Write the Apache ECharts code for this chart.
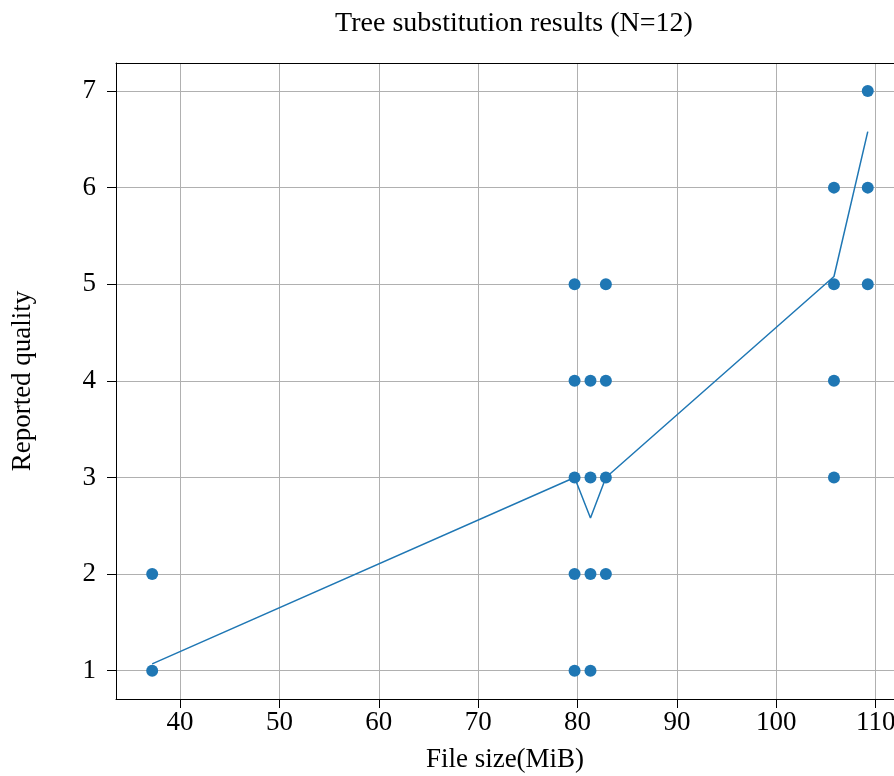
<!DOCTYPE html>
<html><head><meta charset="utf-8">
<script src="https://cdn.jsdelivr.net/npm/echarts@6/dist/echarts.min.js"></script>
<style>html,body{margin:0;padding:0;background:#fff}#c{width:894px;height:776px}</style>
</head><body><div id="c"></div>
<script>
// Scatter observations: [file size MiB, reported quality]
const sizes = [37.2, 79.7, 81.3, 82.85, 105.8, 109.2];
const qualityBySize = [
  [1, 2],
  [1, 2, 3, 4, 5],
  [1, 2, 3, 4],
  [2, 3, 4, 5],
  [3, 4, 5, 6],
  [5, 6, 7]
];
// Mean reported quality per file size (line)
const meanQuality = [1.07, 3.0, 2.58, 3.0, 5.08, 6.58];
const xTicks = [40, 50, 60, 70, 80, 90, 100, 110];
const yTicks = [1, 2, 3, 4, 5, 6, 7];

const scatterData = [];
sizes.forEach((s, i) => qualityBySize[i].forEach(q => scatterData.push([s, q])));
const lineData = sizes.map((s, i) => [s, meanQuality[i]]);

const font = 'Liberation Serif, DejaVu Serif, serif';
const fs = 27;
const chart = echarts.init(document.getElementById('c'), null, {renderer: 'canvas'});
chart.setOption({
  animation: false,
  title: {
    text: 'Tree substitution results (N=12)',
    left: 509, top: 5, textAlign: 'center',
    textStyle: {fontFamily: font, fontSize: 28, fontWeight: 'normal', color: '#000'}
  },
  grid: {left: 116, right: 0, top: 63, bottom: 77, containLabel: false, outerBoundsMode: 'none'},
  xAxis: [{
    type: 'value', min: 33.56, max: 111.84,
    name: 'File size(MiB)', nameLocation: 'middle', nameGap: 47,
    nameTextStyle: {fontFamily: font, fontSize: fs, color: '#000'},
    axisLine: {show: true, lineStyle: {color: '#000', width: 1}},
    axisTick: {show: true, length: 9, inside: false, customValues: xTicks, lineStyle: {color: '#000'}},
    axisLabel: {customValues: xTicks, fontFamily: font, fontSize: fs, color: '#000', margin: 10},
    splitLine: {show: true, lineStyle: {color: '#b0b0b0', width: 1}}
  }, {
    type: 'value', min: 33.56, max: 111.84, position: 'top',
    axisLine: {show: true, lineStyle: {color: '#000', width: 1}},
    axisTick: {show: false}, axisLabel: {show: false}, splitLine: {show: false}
  }],
  yAxis: {
    type: 'value', min: 0.707, max: 7.29,
    name: 'Reported quality', nameLocation: 'middle', nameGap: 80,
    nameTextStyle: {fontFamily: font, fontSize: fs, color: '#000'},
    axisLine: {show: true, lineStyle: {color: '#000', width: 1}},
    axisTick: {show: true, length: 9, customValues: yTicks, lineStyle: {color: '#000'}},
    axisLabel: {customValues: yTicks, fontFamily: font, fontSize: fs, color: '#000', margin: 20},
    splitLine: {show: true, lineStyle: {color: '#b0b0b0', width: 1}}
  },
  series: [{
    type: 'line', data: lineData, xAxisIndex: 0, showSymbol: false, symbol: 'none',
    lineStyle: {color: '#1f77b4', width: 1.5}, z: 2
  }, {
    type: 'scatter', data: scatterData, xAxisIndex: 0, symbol: 'circle', symbolSize: 12,
    itemStyle: {color: '#1f77b4', opacity: 1}, z: 3
  }]
});
</script></body></html>
